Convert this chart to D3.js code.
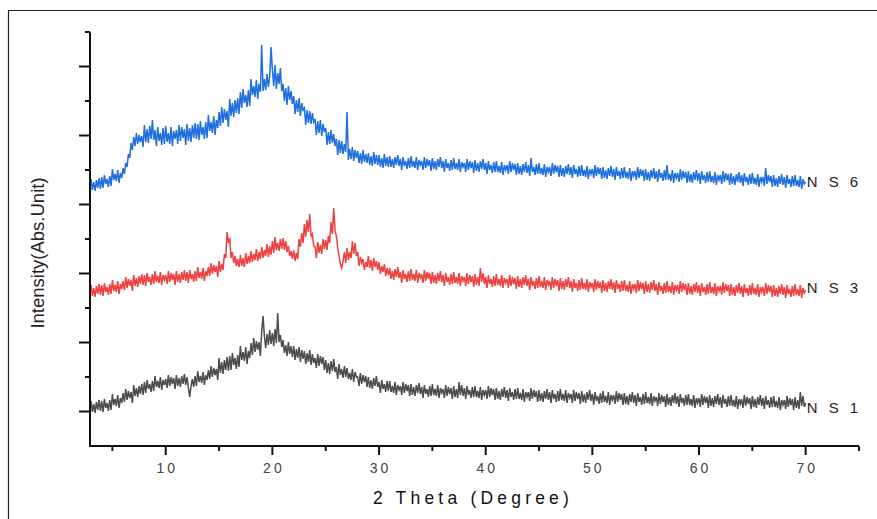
<!DOCTYPE html>
<html>
<head>
<meta charset="utf-8">
<script src="https://cdn.jsdelivr.net/npm/d3@7"></script>
<style>
  body { margin: 0; background: #fff; }
  svg { display: block; font-family: "Liberation Sans", Arial, sans-serif; }
</style>
</head>
<body>
<div id="chart"></div>
<script>
// 2 theta sampling: 3 .. 70 deg, step 0.125 (one row per degree)
const thetaStart = 3;
const thetaStep = 0.125;

// intensities (stacked, arbitrary units)
const ns6 = [
  267, 256, 264, 255, 266, 258, 268, 257,
  269, 258, 271, 262, 267, 259, 270, 260,
  277, 266, 272, 265, 276, 263, 273, 268,
  278, 272, 283, 279, 292, 288, 303, 296,
  309, 300, 313, 302, 311, 304, 310, 299,
  321, 304, 317, 303, 320, 307, 326, 306,
  316, 300, 319, 305, 313, 301, 318, 302,
  320, 304, 313, 302, 319, 300, 315, 307,
  316, 302, 321, 305, 319, 308, 317, 301,
  322, 305, 318, 304, 321, 308, 323, 307,
  322, 306, 325, 311, 319, 307, 324, 308,
  331, 315, 324, 313, 330, 311, 326, 318,
  334, 320, 339, 323, 337, 326, 335, 319,
  347, 330, 343, 329, 346, 333, 348, 332,
  354, 338, 357, 343, 351, 339, 356, 340,
  367, 351, 360, 349, 366, 347, 362, 354,
  401, 355, 367, 356, 372, 359, 370, 399,
  376, 360, 381, 357, 373, 362, 378, 355,
  362, 345, 358, 341, 360, 346, 355, 342,
  350, 332, 346, 334, 348, 330, 343, 336,
  338, 321, 336, 323, 335, 322, 333, 324,
  327, 311, 325, 313, 326, 310, 322, 314,
  318, 301, 314, 302, 316, 303, 312, 300,
  307, 291, 306, 293, 305, 292, 302, 294,
  334, 286, 297, 287, 299, 285, 296, 288,
  295, 283, 293, 282, 296, 284, 292, 283,
  293, 281, 290, 280, 294, 282, 291, 281,
  291, 279, 288, 278, 292, 280, 289, 279,
  290, 279, 287, 278, 289, 281, 291, 280,
  287, 276, 289, 280, 285, 277, 288, 278,
  290, 279, 285, 278, 289, 276, 286, 281,
  285, 276, 289, 278, 287, 280, 286, 275,
  288, 277, 285, 276, 287, 279, 289, 278,
  285, 274, 287, 278, 283, 275, 286, 276,
  288, 277, 283, 276, 287, 274, 284, 279,
  283, 274, 287, 276, 285, 278, 284, 273,
  286, 275, 283, 274, 285, 277, 287, 276,
  283, 272, 285, 276, 281, 273, 284, 274,
  285, 274, 280, 273, 284, 271, 281, 276,
  281, 272, 285, 274, 283, 276, 282, 271,
  283, 272, 280, 271, 282, 274, 284, 273,
  281, 270, 288, 274, 279, 271, 282, 272,
  283, 272, 278, 271, 282, 269, 279, 274,
  279, 270, 283, 272, 281, 274, 280, 269,
  281, 270, 278, 269, 280, 272, 282, 271,
  279, 268, 281, 272, 277, 269, 280, 270,
  281, 270, 276, 269, 280, 267, 277, 272,
  277, 268, 281, 270, 279, 272, 278, 267,
  279, 268, 276, 267, 278, 270, 280, 269,
  277, 266, 279, 270, 275, 267, 278, 268,
  279, 268, 274, 267, 278, 265, 275, 270,
  275, 266, 279, 268, 277, 270, 276, 265,
  277, 266, 274, 265, 276, 268, 278, 267,
  275, 264, 277, 268, 273, 265, 276, 266,
  281, 266, 272, 265, 276, 263, 273, 268,
  273, 264, 277, 266, 275, 268, 274, 263,
  275, 264, 272, 263, 274, 266, 276, 265,
  273, 262, 275, 266, 271, 263, 274, 264,
  275, 264, 270, 263, 274, 261, 271, 266,
  271, 262, 275, 264, 273, 266, 272, 261,
  273, 262, 270, 261, 272, 264, 274, 263,
  271, 260, 273, 264, 269, 261, 272, 262,
  273, 262, 268, 261, 272, 259, 269, 264,
  269, 260, 278, 262, 271, 264, 270, 259,
  271, 260, 268, 259, 270, 262, 272, 261,
  269, 258, 271, 262, 267, 259, 270, 260,
  271, 260, 266, 259, 270, 257, 267, 262,
  264
];

const ns3 = [
  161, 150, 158, 149, 160, 152, 162, 151,
  161, 150, 163, 154, 159, 151, 162, 152,
  166, 155, 161, 154, 165, 152, 162, 157,
  165, 156, 169, 158, 167, 160, 166, 155,
  171, 160, 168, 159, 170, 162, 172, 161,
  171, 160, 173, 164, 169, 161, 172, 162,
  175, 164, 170, 163, 174, 161, 171, 166,
  171, 162, 175, 164, 173, 166, 172, 161,
  175, 164, 172, 163, 174, 166, 176, 165,
  174, 163, 176, 167, 172, 164, 175, 165,
  179, 168, 174, 167, 178, 165, 175, 170,
  179, 170, 183, 172, 181, 174, 180, 169,
  185, 174, 182, 176, 192, 188, 214, 203,
  208, 188, 194, 183, 190, 180, 187, 179,
  191, 180, 188, 179, 193, 182, 190, 183,
  195, 184, 192, 186, 197, 185, 194, 187,
  199, 188, 196, 190, 202, 189, 200, 191,
  205, 193, 209, 196, 203, 195, 207, 197,
  208, 196, 205, 194, 200, 190, 195, 187,
  196, 185, 193, 187, 207, 199, 213, 203,
  222, 209, 226, 214, 232, 210, 212, 200,
  199, 188, 204, 193, 201, 192, 207, 197,
  206, 196, 210, 203, 224, 212, 238, 215,
  210, 198, 190, 182, 178, 185, 194, 183,
  198, 186, 194, 188, 205, 192, 203, 190,
  194, 180, 189, 183, 187, 176, 184, 179,
  190, 178, 186, 175, 188, 179, 185, 176,
  184, 172, 180, 174, 182, 170, 178, 171,
  178, 167, 175, 166, 177, 169, 179, 168,
  174, 163, 176, 167, 172, 164, 175, 165,
  177, 166, 172, 165, 176, 163, 173, 168,
  172, 163, 176, 165, 174, 167, 173, 162,
  174, 163, 171, 162, 173, 165, 175, 164,
  171, 160, 173, 164, 169, 161, 172, 162,
  174, 163, 169, 162, 173, 160, 170, 165,
  169, 160, 173, 162, 171, 164, 170, 159,
  172, 161, 169, 160, 178, 164, 173, 162,
  169, 158, 171, 162, 167, 159, 170, 160,
  172, 161, 167, 160, 171, 158, 168, 163,
  167, 158, 171, 160, 169, 162, 168, 157,
  170, 159, 167, 158, 169, 161, 171, 160,
  167, 156, 169, 160, 165, 157, 168, 158,
  170, 159, 165, 158, 169, 156, 166, 161,
  165, 156, 169, 158, 167, 160, 166, 155,
  168, 157, 165, 156, 167, 159, 169, 158,
  165, 154, 167, 158, 163, 155, 166, 156,
  168, 157, 163, 156, 167, 154, 164, 159,
  163, 154, 167, 156, 165, 158, 164, 153,
  166, 155, 163, 154, 165, 157, 167, 156,
  164, 153, 166, 157, 162, 154, 165, 155,
  166, 155, 161, 154, 165, 152, 162, 157,
  162, 153, 166, 155, 164, 157, 163, 152,
  165, 154, 162, 153, 164, 156, 166, 155,
  162, 151, 164, 155, 160, 152, 163, 153,
  165, 154, 160, 153, 164, 151, 161, 156,
  161, 152, 165, 154, 163, 156, 162, 151,
  163, 152, 160, 151, 162, 154, 164, 153,
  161, 150, 163, 154, 159, 151, 162, 152,
  164, 153, 159, 152, 163, 150, 160, 155,
  160, 151, 164, 153, 162, 155, 161, 150,
  162, 151, 159, 150, 161, 153, 163, 152,
  160, 149, 162, 153, 158, 150, 161, 151,
  163, 152, 158, 151, 162, 149, 159, 154,
  159, 150, 163, 152, 161, 154, 160, 149,
  161, 150, 158, 149, 160, 152, 162, 151,
  159, 148, 161, 152, 157, 149, 160, 150,
  162, 151, 157, 150, 161, 148, 158, 153,
  156
];

const ns1 = [
  45, 34, 42, 33, 44, 36, 46, 35,
  45, 34, 47, 38, 43, 35, 46, 36,
  52, 41, 47, 40, 51, 38, 48, 43,
  53, 44, 57, 46, 55, 48, 54, 43,
  61, 50, 58, 49, 60, 52, 62, 51,
  64, 53, 66, 57, 62, 54, 65, 55,
  70, 59, 65, 58, 69, 56, 66, 61,
  67, 58, 71, 60, 69, 62, 68, 57,
  71, 60, 68, 59, 70, 62, 72, 61,
  69, 58, 49, 60, 67, 59, 70, 60,
  75, 64, 70, 63, 74, 61, 71, 66,
  76, 67, 80, 69, 78, 71, 77, 66,
  88, 73, 84, 72, 86, 76, 89, 75,
  90, 76, 93, 81, 88, 77, 91, 79,
  100, 86, 94, 85, 99, 82, 95, 88,
  103, 91, 108, 94, 105, 96, 104, 90,
  115, 130, 110, 98, 112, 101, 116, 102,
  113, 100, 117, 103, 133, 104, 111, 99,
  106, 93, 101, 90, 104, 92, 100, 89,
  100, 86, 97, 88, 99, 84, 96, 87,
  95, 82, 93, 84, 96, 81, 92, 83,
  88, 78, 92, 80, 90, 82, 89, 76,
  86, 73, 83, 72, 85, 75, 87, 74,
  79, 67, 82, 71, 77, 68, 80, 69,
  78, 67, 73, 66, 77, 64, 74, 69,
  69, 60, 73, 62, 71, 64, 70, 59,
  69, 58, 66, 57, 68, 60, 70, 59,
  64, 53, 66, 57, 62, 54, 65, 55,
  65, 54, 60, 53, 64, 51, 61, 56,
  60, 51, 64, 53, 62, 55, 61, 50,
  62, 51, 59, 50, 61, 53, 63, 52,
  59, 48, 61, 52, 57, 49, 60, 50,
  62, 51, 57, 50, 61, 48, 58, 53,
  57, 48, 61, 50, 59, 52, 58, 47,
  60, 49, 57, 48, 64, 51, 61, 50,
  58, 47, 60, 51, 56, 48, 59, 49,
  60, 49, 55, 48, 59, 46, 56, 51,
  56, 47, 60, 49, 58, 51, 57, 46,
  58, 47, 55, 46, 57, 49, 59, 48,
  56, 45, 58, 49, 54, 46, 57, 47,
  58, 47, 53, 46, 57, 44, 54, 49,
  54, 45, 58, 47, 56, 49, 55, 44,
  56, 45, 53, 44, 55, 47, 57, 46,
  54, 43, 56, 47, 52, 44, 55, 45,
  57, 46, 52, 45, 56, 43, 53, 48,
  52, 43, 56, 45, 54, 47, 53, 42,
  55, 44, 52, 43, 54, 46, 56, 45,
  52, 41, 54, 45, 50, 42, 53, 43,
  55, 44, 50, 43, 54, 41, 51, 46,
  51, 42, 55, 44, 53, 46, 52, 41,
  53, 42, 50, 41, 52, 44, 54, 43,
  51, 40, 53, 44, 49, 41, 52, 42,
  54, 43, 49, 42, 53, 40, 50, 45,
  49, 40, 53, 42, 51, 44, 50, 39,
  52, 41, 49, 40, 51, 43, 53, 42,
  50, 39, 52, 43, 48, 40, 51, 41,
  52, 41, 47, 40, 51, 38, 48, 43,
  48, 39, 52, 41, 50, 43, 49, 38,
  51, 40, 48, 39, 50, 42, 52, 41,
  49, 38, 51, 42, 47, 39, 50, 40,
  51, 40, 46, 39, 50, 37, 47, 42,
  47, 38, 51, 40, 49, 42, 48, 37,
  50, 39, 47, 38, 49, 41, 51, 40,
  48, 37, 50, 41, 46, 38, 49, 39,
  50, 39, 45, 38, 49, 36, 46, 41,
  46, 37, 50, 39, 48, 41, 47, 36,
  49, 38, 46, 37, 54, 40, 50, 39,
  43
];

const seriesNames = ['N S 1', 'N S 3', 'N S 6'];
const seriesColors = ['#4d4d4d', '#ef4040', '#1f6fde'];
const seriesValues = [ns1, ns3, ns6];
const labelLevels = [38, 158, 264];

const xTickLabels = [10, 20, 30, 40, 50, 60, 70];
const xMinorTicks = [5, 15, 25, 35, 45, 55, 65, 75];

const width = 877;
const height = 519;
const margin = {top: 32, left: 90, right: 18, bottom: 73};

const svg = d3.select('#chart').append('svg')
    .attr('width', width)
    .attr('height', height);

// frame (only top and left edges visible)
svg.append('path')
    .attr('d', 'M8.5,' + height + 'V10.5H' + width)
    .attr('fill', 'none')
    .attr('stroke', '#222')
    .attr('stroke-width', 1.2);

const xScale = d3.scaleLinear().domain([2.9, 75]).range([margin.left, width - margin.right]);
const yScale = d3.scaleLinear().domain([0, 414]).range([height - margin.bottom, margin.top]);

const line = d3.line()
    .x((d, i) => xScale(thetaStart + i * thetaStep))
    .y((d) => yScale(d));

seriesValues.forEach((vals, k) => {
  svg.append('path')
      .datum(vals)
      .attr('fill', 'none')
      .attr('stroke', seriesColors[k])
      .attr('stroke-width', 1.5)
      .attr('d', line);
});

// series labels at the end of each trace
const lastTheta = thetaStart + (ns1.length - 1) * thetaStep;
seriesNames.forEach((name, k) => {
  svg.append('text')
      .attr('x', xScale(lastTheta) + 1)
      .attr('y', yScale(labelLevels[k]))
      .attr('dy', '0.35em')
      .attr('font-size', 15)
      .attr('letter-spacing', 3.5)
      .attr('fill', '#222')
      .text(name);
});

// x axis
const xAxis = svg.append('g')
    .attr('transform', 'translate(0,' + yScale(0) + ')');
xAxis.append('line')
    .attr('x1', xScale(2.9)).attr('x2', xScale(75))
    .attr('stroke', '#111').attr('stroke-width', 2);
xAxis.selectAll('.major')
    .data(xTickLabels)
    .enter().append('line')
    .attr('x1', (d) => xScale(d)).attr('x2', (d) => xScale(d))
    .attr('y1', 0).attr('y2', 9)
    .attr('stroke', '#111').attr('stroke-width', 2);
xAxis.selectAll('.minor')
    .data(xMinorTicks)
    .enter().append('line')
    .attr('x1', (d) => xScale(d)).attr('x2', (d) => xScale(d))
    .attr('y1', 0).attr('y2', 5)
    .attr('stroke', '#111').attr('stroke-width', 2);
xAxis.selectAll('text')
    .data(xTickLabels)
    .enter().append('text')
    .attr('x', (d) => xScale(d) + 1.5)
    .attr('y', 27)
    .attr('text-anchor', 'middle')
    .attr('font-size', 14)
    .attr('letter-spacing', 3)
    .attr('fill', '#444')
    .text((d) => d);

svg.append('text')
    .attr('x', 473)
    .attr('y', 504)
    .attr('text-anchor', 'middle')
    .attr('font-size', 17.5)
    .attr('letter-spacing', 4.2)
    .attr('fill', '#111')
    .text('2 Theta (Degree)');

// y axis (no labels)
const yTicks = d3.range(0, 13).map((i) => i * 34.5);
const yAxis = svg.append('g')
    .attr('transform', 'translate(' + xScale(2.9) + ',0)');
yAxis.append('line')
    .attr('y1', yScale(0) + 1).attr('y2', yScale(414))
    .attr('stroke', '#111').attr('stroke-width', 2);
yAxis.selectAll('.tick')
    .data(yTicks.slice(1))
    .enter().append('line')
    .attr('y1', (d) => yScale(d)).attr('y2', (d) => yScale(d))
    .attr('x1', (d, i) => (i % 2 === 0 ? -11 : -5)).attr('x2', 0)
    .attr('stroke', '#111').attr('stroke-width', 2);

svg.append('text')
    .attr('transform', 'translate(44,253) rotate(-90)')
    .attr('text-anchor', 'middle')
    .attr('font-size', 18.5)
    .attr('fill', '#222')
    .text('Intensity(Abs.Unit)');
</script>
</body>
</html>
